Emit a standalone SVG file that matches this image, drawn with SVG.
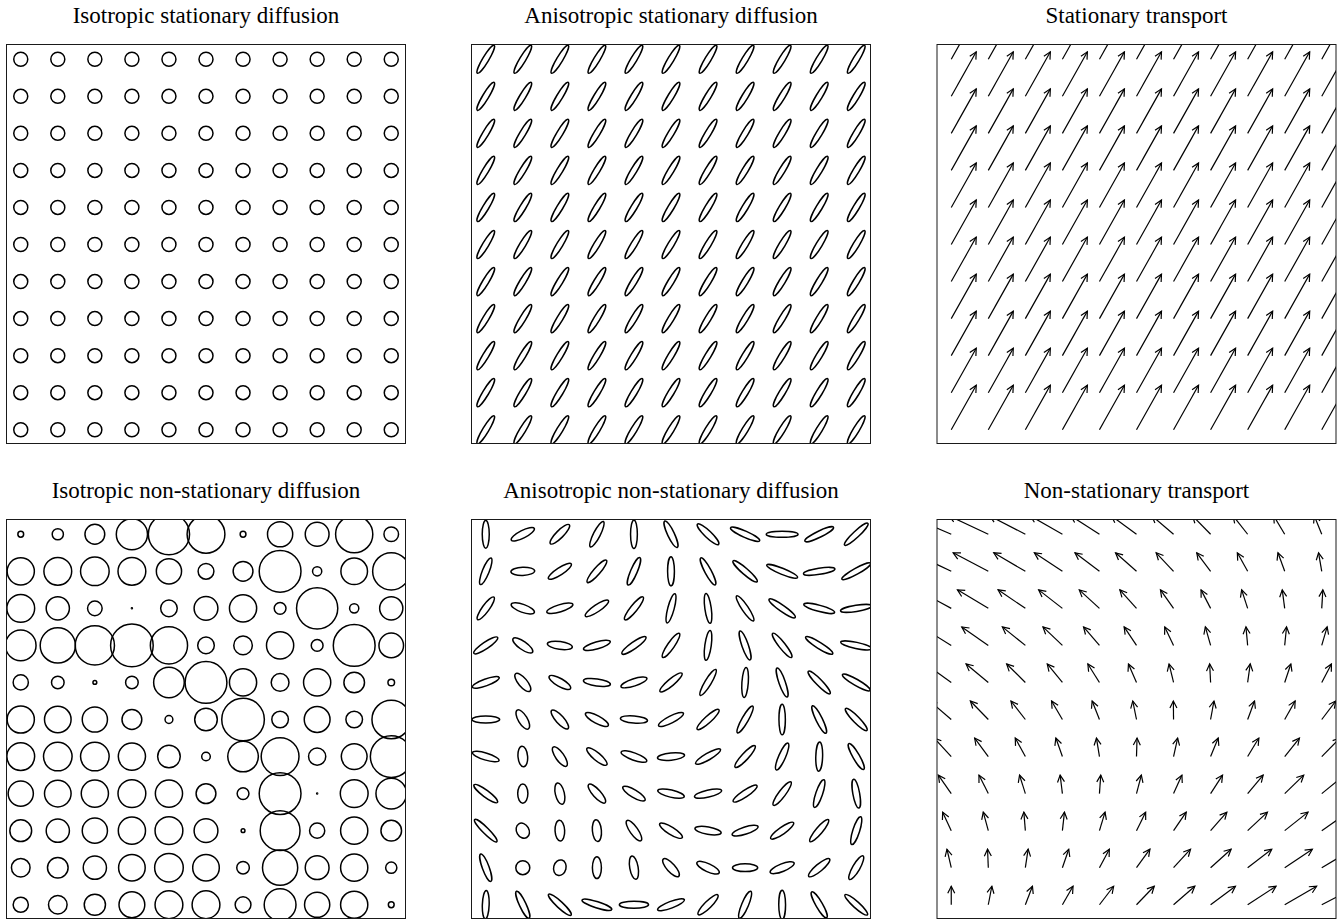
<svg xmlns="http://www.w3.org/2000/svg" xmlns:xlink="http://www.w3.org/1999/xlink" width="1343" height="921" viewBox="0 0 1343 921">
<style>
.f{fill:none;stroke:#1a1a1a;stroke-width:1}
.o{fill:none;stroke:#000;stroke-width:1.5}
.a{fill:none;stroke:#000;stroke-width:1.2;marker-end:url(#ah)}
text{font-family:"Liberation Serif","Times New Roman",serif;font-size:23px;fill:#000;text-anchor:middle}
</style>
<defs>
<marker id="ah" markerUnits="userSpaceOnUse" markerWidth="20" markerHeight="20" refX="0" refY="0" orient="auto" overflow="visible"><path d="M-7,-3.5L0,0L-7,3.5" fill="none" stroke="#000" stroke-width="1.2"/></marker>
<clipPath id="k1"><rect x="6.5" y="44.5" width="399" height="399"/></clipPath>
<clipPath id="k2"><rect x="471.5" y="44.5" width="399" height="399"/></clipPath>
<clipPath id="k3"><rect x="937" y="44.5" width="399" height="399"/></clipPath>
<clipPath id="k4"><rect x="6.5" y="519.5" width="399" height="399"/></clipPath>
<clipPath id="k5"><rect x="471.5" y="519.5" width="399" height="399"/></clipPath>
<clipPath id="k6"><rect x="937" y="519.5" width="399" height="399"/></clipPath>
<circle id="c" r="7"/>
<g id="cr"><use xlink:href="#c" x="0"/><use xlink:href="#c" x="37.05"/><use xlink:href="#c" x="74.1"/><use xlink:href="#c" x="111.15"/><use xlink:href="#c" x="148.2"/><use xlink:href="#c" x="185.25"/><use xlink:href="#c" x="222.3"/><use xlink:href="#c" x="259.35"/><use xlink:href="#c" x="296.4"/><use xlink:href="#c" x="333.45"/><use xlink:href="#c" x="370.5"/></g>
<ellipse id="e" rx="3" ry="16.3" transform="rotate(31)"/>
<g id="er"><use xlink:href="#e" x="0"/><use xlink:href="#e" x="37.05"/><use xlink:href="#e" x="74.1"/><use xlink:href="#e" x="111.15"/><use xlink:href="#e" x="148.2"/><use xlink:href="#e" x="185.25"/><use xlink:href="#e" x="222.3"/><use xlink:href="#e" x="259.35"/><use xlink:href="#e" x="296.4"/><use xlink:href="#e" x="333.45"/><use xlink:href="#e" x="370.5"/></g>
<path id="s" d="M0,0l25,-44.5"/>
<g id="sr"><use xlink:href="#s" x="0"/><use xlink:href="#s" x="37.05"/><use xlink:href="#s" x="74.1"/><use xlink:href="#s" x="111.15"/><use xlink:href="#s" x="148.2"/><use xlink:href="#s" x="185.25"/><use xlink:href="#s" x="222.3"/><use xlink:href="#s" x="259.35"/><use xlink:href="#s" x="296.4"/><use xlink:href="#s" x="333.45"/><use xlink:href="#s" x="370.5"/></g>
</defs>
<rect width="1343" height="921" fill="#fff"/>
<g id="titles">
<text x="206" y="23.3">Isotropic stationary diffusion</text>
<text x="671" y="23.3">Anisotropic stationary diffusion</text>
<text x="1136.5" y="23.3">Stationary transport</text>
<text x="206" y="498.3">Isotropic non-stationary diffusion</text>
<text x="671" y="498.3">Anisotropic non-stationary diffusion</text>
<text x="1136.5" y="498.3">Non-stationary transport</text>
</g>
<g id="panel-iso-stat" clip-path="url(#k1)"><g class="o" transform="translate(20.75 59.25)">
<use xlink:href="#cr" y="0"/><use xlink:href="#cr" y="37.05"/><use xlink:href="#cr" y="74.1"/><use xlink:href="#cr" y="111.15"/><use xlink:href="#cr" y="148.2"/><use xlink:href="#cr" y="185.25"/><use xlink:href="#cr" y="222.3"/><use xlink:href="#cr" y="259.35"/><use xlink:href="#cr" y="296.4"/><use xlink:href="#cr" y="333.45"/><use xlink:href="#cr" y="370.5"/>
</g></g>
<g id="panel-aniso-stat" clip-path="url(#k2)"><g class="o" transform="translate(485.75 59.25)">
<use xlink:href="#er" y="0"/><use xlink:href="#er" y="37.05"/><use xlink:href="#er" y="74.1"/><use xlink:href="#er" y="111.15"/><use xlink:href="#er" y="148.2"/><use xlink:href="#er" y="185.25"/><use xlink:href="#er" y="222.3"/><use xlink:href="#er" y="259.35"/><use xlink:href="#er" y="296.4"/><use xlink:href="#er" y="333.45"/><use xlink:href="#er" y="370.5"/>
</g></g>
<g id="panel-transport-stat" clip-path="url(#k3)"><g class="a" transform="translate(951.25 59.25)">
<use xlink:href="#sr" y="0"/><use xlink:href="#sr" y="37.05"/><use xlink:href="#sr" y="74.1"/><use xlink:href="#sr" y="111.15"/><use xlink:href="#sr" y="148.2"/><use xlink:href="#sr" y="185.25"/><use xlink:href="#sr" y="222.3"/><use xlink:href="#sr" y="259.35"/><use xlink:href="#sr" y="296.4"/><use xlink:href="#sr" y="333.45"/><use xlink:href="#sr" y="370.5"/>
</g></g>
<g id="panel-iso-nonstat" clip-path="url(#k4)"><g class="o" transform="translate(20.75 534.25)">
<circle cx="0" cy="0" r="2.9"/><circle cx="37.05" cy="0" r="5.6"/><circle cx="74.1" cy="0" r="9.9"/><circle cx="111.15" cy="0" r="15.6"/><circle cx="148.2" cy="0" r="20.6"/><circle cx="185.25" cy="0" r="18.9"/><circle cx="222.3" cy="0" r="2.9"/><circle cx="259.35" cy="0" r="12.6"/><circle cx="296.4" cy="0" r="11.9"/><circle cx="333.45" cy="0" r="18.6"/><circle cx="370.5" cy="0" r="7.3"/>
<circle cx="0" cy="37.05" r="13.6"/><circle cx="37.05" cy="37.05" r="13.9"/><circle cx="74.1" cy="37.05" r="14.3"/><circle cx="111.15" cy="37.05" r="13.9"/><circle cx="148.2" cy="37.05" r="12.6"/><circle cx="185.25" cy="37.05" r="7.9"/><circle cx="222.3" cy="37.05" r="9.9"/><circle cx="259.35" cy="37.05" r="20.9"/><circle cx="296.4" cy="37.05" r="4.6"/><circle cx="333.45" cy="37.05" r="13.3"/><circle cx="370.5" cy="37.05" r="18.6"/>
<circle cx="0" cy="74.1" r="13.9"/><circle cx="37.05" cy="74.1" r="11.6"/><circle cx="74.1" cy="74.1" r="7.3"/><circle cx="111.15" cy="74.1" r="0.5"/><circle cx="148.2" cy="74.1" r="8.3"/><circle cx="185.25" cy="74.1" r="11.9"/><circle cx="222.3" cy="74.1" r="13.6"/><circle cx="259.35" cy="74.1" r="5.9"/><circle cx="296.4" cy="74.1" r="20.6"/><circle cx="333.45" cy="74.1" r="4.6"/><circle cx="370.5" cy="74.1" r="11.6"/>
<circle cx="0" cy="111.15" r="15.3"/><circle cx="37.05" cy="111.15" r="17.6"/><circle cx="74.1" cy="111.15" r="19.6"/><circle cx="111.15" cy="111.15" r="21.3"/><circle cx="148.2" cy="111.15" r="18.6"/><circle cx="185.25" cy="111.15" r="8.3"/><circle cx="222.3" cy="111.15" r="9.3"/><circle cx="259.35" cy="111.15" r="13.6"/><circle cx="296.4" cy="111.15" r="5.9"/><circle cx="333.45" cy="111.15" r="20.9"/><circle cx="370.5" cy="111.15" r="12.3"/>
<circle cx="0" cy="148.2" r="7.6"/><circle cx="37.05" cy="148.2" r="6.3"/><circle cx="74.1" cy="148.2" r="1.9"/><circle cx="111.15" cy="148.2" r="6.3"/><circle cx="148.2" cy="148.2" r="15.3"/><circle cx="185.25" cy="148.2" r="20.9"/><circle cx="222.3" cy="148.2" r="13.6"/><circle cx="259.35" cy="148.2" r="8.9"/><circle cx="296.4" cy="148.2" r="13.6"/><circle cx="333.45" cy="148.2" r="10.3"/><circle cx="370.5" cy="148.2" r="3.3"/>
<circle cx="0" cy="185.25" r="13.6"/><circle cx="37.05" cy="185.25" r="13.3"/><circle cx="74.1" cy="185.25" r="12.6"/><circle cx="111.15" cy="185.25" r="9.9"/><circle cx="148.2" cy="185.25" r="3.9"/><circle cx="185.25" cy="185.25" r="11.3"/><circle cx="222.3" cy="185.25" r="21.3"/><circle cx="259.35" cy="185.25" r="8.3"/><circle cx="296.4" cy="185.25" r="12.9"/><circle cx="333.45" cy="185.25" r="8.3"/><circle cx="370.5" cy="185.25" r="19.3"/>
<circle cx="0" cy="222.3" r="13.9"/><circle cx="37.05" cy="222.3" r="14.3"/><circle cx="74.1" cy="222.3" r="14.3"/><circle cx="111.15" cy="222.3" r="13.6"/><circle cx="148.2" cy="222.3" r="11.3"/><circle cx="185.25" cy="222.3" r="4.3"/><circle cx="222.3" cy="222.3" r="15.3"/><circle cx="259.35" cy="222.3" r="18.9"/><circle cx="296.4" cy="222.3" r="8.6"/><circle cx="333.45" cy="222.3" r="12.9"/><circle cx="370.5" cy="222.3" r="20.9"/>
<circle cx="0" cy="259.35" r="12.6"/><circle cx="37.05" cy="259.35" r="13.3"/><circle cx="74.1" cy="259.35" r="13.6"/><circle cx="111.15" cy="259.35" r="13.9"/><circle cx="148.2" cy="259.35" r="13.6"/><circle cx="185.25" cy="259.35" r="9.9"/><circle cx="222.3" cy="259.35" r="5.9"/><circle cx="259.35" cy="259.35" r="20.9"/><circle cx="296.4" cy="259.35" r="0.5"/><circle cx="333.45" cy="259.35" r="13.9"/><circle cx="370.5" cy="259.35" r="15.3"/>
<circle cx="0" cy="296.4" r="10.9"/><circle cx="37.05" cy="296.4" r="11.6"/><circle cx="74.1" cy="296.4" r="12.6"/><circle cx="111.15" cy="296.4" r="13.6"/><circle cx="148.2" cy="296.4" r="13.9"/><circle cx="185.25" cy="296.4" r="11.9"/><circle cx="222.3" cy="296.4" r="1.9"/><circle cx="259.35" cy="296.4" r="19.9"/><circle cx="296.4" cy="296.4" r="7.6"/><circle cx="333.45" cy="296.4" r="13.6"/><circle cx="370.5" cy="296.4" r="10.3"/>
<circle cx="0" cy="333.45" r="9.3"/><circle cx="37.05" cy="333.45" r="10.3"/><circle cx="74.1" cy="333.45" r="11.6"/><circle cx="111.15" cy="333.45" r="13.3"/><circle cx="148.2" cy="333.45" r="14.3"/><circle cx="185.25" cy="333.45" r="13.3"/><circle cx="222.3" cy="333.45" r="6.3"/><circle cx="259.35" cy="333.45" r="17.6"/><circle cx="296.4" cy="333.45" r="11.9"/><circle cx="333.45" cy="333.45" r="13.6"/><circle cx="370.5" cy="333.45" r="5.6"/>
<circle cx="0" cy="370.5" r="7.6"/><circle cx="37.05" cy="370.5" r="9.3"/><circle cx="74.1" cy="370.5" r="10.6"/><circle cx="111.15" cy="370.5" r="12.9"/><circle cx="148.2" cy="370.5" r="13.9"/><circle cx="185.25" cy="370.5" r="13.9"/><circle cx="222.3" cy="370.5" r="7.9"/><circle cx="259.35" cy="370.5" r="15.9"/><circle cx="296.4" cy="370.5" r="12.6"/><circle cx="333.45" cy="370.5" r="13.6"/><circle cx="370.5" cy="370.5" r="2.9"/>
</g></g>
<g id="panel-aniso-nonstat" clip-path="url(#k5)"><g class="o" transform="translate(485.75 534.25)">
<ellipse rx="3.5" ry="13.9" transform="translate(0 0)rotate(0)"/><ellipse rx="3.8" ry="12.9" transform="translate(37.05 0)rotate(63)"/><ellipse rx="3.7" ry="13.4" transform="translate(74.1 0)rotate(45)"/><ellipse rx="3.4" ry="14.3" transform="translate(111.15 0)rotate(27)"/><ellipse rx="3.4" ry="14.3" transform="translate(148.2 0)rotate(0)"/><ellipse rx="3.4" ry="14.6" transform="translate(185.25 0)rotate(-25)"/><ellipse rx="3.4" ry="14.6" transform="translate(222.3 0)rotate(-46)"/><ellipse rx="3.1" ry="15.9" transform="translate(259.35 0)rotate(-66)"/><ellipse rx="3.1" ry="15.9" transform="translate(296.4 0)rotate(90)"/><ellipse rx="3.1" ry="15.9" transform="translate(333.45 0)rotate(64)"/><ellipse rx="3.1" ry="15.9" transform="translate(370.5 0)rotate(47)"/>
<ellipse rx="3.4" ry="14.3" transform="translate(0 37.05)rotate(22)"/><ellipse rx="4.1" ry="11.9" transform="translate(37.05 37.05)rotate(88)"/><ellipse rx="3.6" ry="13.6" transform="translate(74.1 37.05)rotate(57)"/><ellipse rx="3.4" ry="14.6" transform="translate(111.15 37.05)rotate(41)"/><ellipse rx="3.3" ry="14.9" transform="translate(148.2 37.05)rotate(23)"/><ellipse rx="3.4" ry="14.6" transform="translate(185.25 37.05)rotate(0)"/><ellipse rx="3.2" ry="15.3" transform="translate(222.3 37.05)rotate(-28)"/><ellipse rx="3.1" ry="15.9" transform="translate(259.35 37.05)rotate(-49)"/><ellipse rx="3.0" ry="16.6" transform="translate(296.4 37.05)rotate(-68)"/><ellipse rx="3.1" ry="15.9" transform="translate(333.45 37.05)rotate(81)"/><ellipse rx="3.0" ry="16.4" transform="translate(370.5 37.05)rotate(61)"/>
<ellipse rx="3.5" ry="13.9" transform="translate(0 74.1)rotate(36)"/><ellipse rx="4.0" ry="12.3" transform="translate(37.05 74.1)rotate(-70)"/><ellipse rx="3.6" ry="13.6" transform="translate(74.1 74.1)rotate(73)"/><ellipse rx="3.5" ry="13.9" transform="translate(111.15 74.1)rotate(56)"/><ellipse rx="3.4" ry="14.6" transform="translate(148.2 74.1)rotate(39)"/><ellipse rx="3.2" ry="15.1" transform="translate(185.25 74.1)rotate(15)"/><ellipse rx="3.2" ry="15.1" transform="translate(222.3 74.1)rotate(-8)"/><ellipse rx="3.2" ry="15.1" transform="translate(259.35 74.1)rotate(-34)"/><ellipse rx="3.1" ry="15.9" transform="translate(296.4 74.1)rotate(-55)"/><ellipse rx="3.1" ry="15.9" transform="translate(333.45 74.1)rotate(-75)"/><ellipse rx="3.1" ry="15.9" transform="translate(370.5 74.1)rotate(81)"/>
<ellipse rx="3.4" ry="14.3" transform="translate(0 111.15)rotate(56)"/><ellipse rx="4.1" ry="11.9" transform="translate(37.05 111.15)rotate(-55)"/><ellipse rx="3.9" ry="12.6" transform="translate(74.1 111.15)rotate(-82)"/><ellipse rx="3.5" ry="13.9" transform="translate(111.15 111.15)rotate(74)"/><ellipse rx="3.4" ry="14.6" transform="translate(148.2 111.15)rotate(55)"/><ellipse rx="3.4" ry="14.6" transform="translate(185.25 111.15)rotate(35)"/><ellipse rx="3.2" ry="15.1" transform="translate(222.3 111.15)rotate(8)"/><ellipse rx="3.2" ry="15.3" transform="translate(259.35 111.15)rotate(-19)"/><ellipse rx="3.2" ry="15.3" transform="translate(296.4 111.15)rotate(-38)"/><ellipse rx="3.1" ry="15.9" transform="translate(333.45 111.15)rotate(-58)"/><ellipse rx="3.1" ry="15.9" transform="translate(370.5 111.15)rotate(-78)"/>
<ellipse rx="3.4" ry="14.3" transform="translate(0 148.2)rotate(70)"/><ellipse rx="4.4" ry="11.3" transform="translate(37.05 148.2)rotate(-40)"/><ellipse rx="4.0" ry="12.3" transform="translate(74.1 148.2)rotate(-60)"/><ellipse rx="3.6" ry="13.6" transform="translate(111.15 148.2)rotate(-82)"/><ellipse rx="3.6" ry="13.6" transform="translate(148.2 148.2)rotate(72)"/><ellipse rx="3.4" ry="14.3" transform="translate(185.25 148.2)rotate(50)"/><ellipse rx="3.2" ry="15.1" transform="translate(222.3 148.2)rotate(31)"/><ellipse rx="3.2" ry="15.1" transform="translate(259.35 148.2)rotate(4)"/><ellipse rx="3.2" ry="15.3" transform="translate(296.4 148.2)rotate(-19)"/><ellipse rx="3.1" ry="15.6" transform="translate(333.45 148.2)rotate(-44)"/><ellipse rx="3.1" ry="15.9" transform="translate(370.5 148.2)rotate(-60)"/>
<ellipse rx="3.5" ry="13.9" transform="translate(0 185.25)rotate(90)"/><ellipse rx="4.5" ry="10.9" transform="translate(37.05 185.25)rotate(-31)"/><ellipse rx="4.0" ry="12.3" transform="translate(74.1 185.25)rotate(-42)"/><ellipse rx="3.8" ry="12.9" transform="translate(111.15 185.25)rotate(-62)"/><ellipse rx="3.6" ry="13.6" transform="translate(148.2 185.25)rotate(-85)"/><ellipse rx="3.5" ry="13.9" transform="translate(185.25 185.25)rotate(63)"/><ellipse rx="3.4" ry="14.6" transform="translate(222.3 185.25)rotate(48)"/><ellipse rx="3.2" ry="15.3" transform="translate(259.35 185.25)rotate(30)"/><ellipse rx="3.2" ry="15.3" transform="translate(296.4 185.25)rotate(0)"/><ellipse rx="3.2" ry="15.3" transform="translate(333.45 185.25)rotate(-26)"/><ellipse rx="3.2" ry="15.3" transform="translate(370.5 185.25)rotate(-44)"/>
<ellipse rx="3.5" ry="13.9" transform="translate(0 222.3)rotate(-73)"/><ellipse rx="4.8" ry="10.3" transform="translate(37.05 222.3)rotate(-5)"/><ellipse rx="4.2" ry="11.6" transform="translate(74.1 222.3)rotate(-35)"/><ellipse rx="3.8" ry="12.9" transform="translate(111.15 222.3)rotate(-50)"/><ellipse rx="3.6" ry="13.6" transform="translate(148.2 222.3)rotate(-70)"/><ellipse rx="3.6" ry="13.6" transform="translate(185.25 222.3)rotate(84)"/><ellipse rx="3.4" ry="14.3" transform="translate(222.3 222.3)rotate(60)"/><ellipse rx="3.4" ry="14.6" transform="translate(259.35 222.3)rotate(43)"/><ellipse rx="3.4" ry="14.6" transform="translate(296.4 222.3)rotate(24)"/><ellipse rx="3.4" ry="14.6" transform="translate(333.45 222.3)rotate(2)"/><ellipse rx="3.3" ry="14.9" transform="translate(370.5 222.3)rotate(-30)"/>
<ellipse rx="3.4" ry="14.6" transform="translate(0 259.35)rotate(-53)"/><ellipse rx="5.1" ry="9.6" transform="translate(37.05 259.35)rotate(0)"/><ellipse rx="4.5" ry="10.9" transform="translate(74.1 259.35)rotate(-13)"/><ellipse rx="4.0" ry="12.3" transform="translate(111.15 259.35)rotate(-42)"/><ellipse rx="3.8" ry="12.9" transform="translate(148.2 259.35)rotate(-59)"/><ellipse rx="3.6" ry="13.6" transform="translate(185.25 259.35)rotate(-77)"/><ellipse rx="3.5" ry="13.9" transform="translate(222.3 259.35)rotate(77)"/><ellipse rx="3.4" ry="14.3" transform="translate(259.35 259.35)rotate(56)"/><ellipse rx="3.4" ry="14.6" transform="translate(296.4 259.35)rotate(37)"/><ellipse rx="3.4" ry="14.6" transform="translate(333.45 259.35)rotate(19)"/><ellipse rx="3.4" ry="14.6" transform="translate(370.5 259.35)rotate(-10)"/>
<ellipse rx="3.1" ry="15.6" transform="translate(0 296.4)rotate(-45)"/><ellipse rx="6.2" ry="7.9" transform="translate(37.05 296.4)rotate(-30)"/><ellipse rx="4.8" ry="10.3" transform="translate(74.1 296.4)rotate(-3)"/><ellipse rx="4.5" ry="10.9" transform="translate(111.15 296.4)rotate(-5)"/><ellipse rx="4.0" ry="12.3" transform="translate(148.2 296.4)rotate(-35)"/><ellipse rx="3.7" ry="13.3" transform="translate(185.25 296.4)rotate(-58)"/><ellipse rx="3.7" ry="13.3" transform="translate(222.3 296.4)rotate(-80)"/><ellipse rx="3.6" ry="13.6" transform="translate(259.35 296.4)rotate(72)"/><ellipse rx="3.5" ry="13.9" transform="translate(296.4 296.4)rotate(55)"/><ellipse rx="3.4" ry="14.3" transform="translate(333.45 296.4)rotate(40)"/><ellipse rx="3.4" ry="14.6" transform="translate(370.5 296.4)rotate(18)"/>
<ellipse rx="3.4" ry="14.6" transform="translate(0 333.45)rotate(-20)"/><ellipse rx="7" ry="7" transform="translate(37.05 333.45)rotate(0)"/><ellipse rx="6.2" ry="7.9" transform="translate(74.1 333.45)rotate(15)"/><ellipse rx="4.5" ry="10.9" transform="translate(111.15 333.45)rotate(0)"/><ellipse rx="4.2" ry="11.8" transform="translate(148.2 333.45)rotate(-10)"/><ellipse rx="4.2" ry="11.6" transform="translate(185.25 333.45)rotate(-42)"/><ellipse rx="4.0" ry="12.3" transform="translate(222.3 333.45)rotate(-65)"/><ellipse rx="3.9" ry="12.6" transform="translate(259.35 333.45)rotate(90)"/><ellipse rx="3.8" ry="12.9" transform="translate(296.4 333.45)rotate(68)"/><ellipse rx="3.6" ry="13.6" transform="translate(333.45 333.45)rotate(50)"/><ellipse rx="3.6" ry="13.6" transform="translate(370.5 333.45)rotate(30)"/>
<ellipse rx="3.4" ry="14.3" transform="translate(0 370.5)rotate(2)"/><ellipse rx="3.3" ry="14.9" transform="translate(37.05 370.5)rotate(-25)"/><ellipse rx="3.2" ry="15.3" transform="translate(74.1 370.5)rotate(-47)"/><ellipse rx="3.1" ry="15.6" transform="translate(111.15 370.5)rotate(-72)"/><ellipse rx="3.4" ry="14.6" transform="translate(148.2 370.5)rotate(90)"/><ellipse rx="3.4" ry="14.3" transform="translate(185.25 370.5)rotate(69)"/><ellipse rx="3.5" ry="13.9" transform="translate(222.3 370.5)rotate(45)"/><ellipse rx="3.4" ry="14.6" transform="translate(259.35 370.5)rotate(23)"/><ellipse rx="3.4" ry="14.6" transform="translate(296.4 370.5)rotate(0)"/><ellipse rx="3.3" ry="14.9" transform="translate(333.45 370.5)rotate(-30)"/><ellipse rx="3.2" ry="15.1" transform="translate(370.5 370.5)rotate(-48)"/>
</g></g>
<g id="panel-transport-nonstat" clip-path="url(#k6)"><g class="a" transform="translate(951.25 534.25)">
<path d="M0,0l-43,-18.5"/><path d="M37.05,0l-39.45,-18.5"/><path d="M74.1,0l-35.9,-18.5"/><path d="M111.15,0l-32.35,-18.5"/><path d="M148.2,0l-28.8,-18.5"/><path d="M185.25,0l-25.25,-18.5"/><path d="M222.3,0l-21.7,-18.5"/><path d="M259.35,0l-18.15,-18.5"/><path d="M296.4,0l-14.6,-18.5"/><path d="M333.45,0l-11.05,-18.5"/><path d="M370.5,0l-7.5,-18.5"/>
<path d="M0,37.05l-38.7,-18.5"/><path d="M37.05,37.05l-35.15,-18.5"/><path d="M74.1,37.05l-31.6,-18.5"/><path d="M111.15,37.05l-28.05,-18.5"/><path d="M148.2,37.05l-24.5,-18.5"/><path d="M185.25,37.05l-20.95,-18.5"/><path d="M222.3,37.05l-17.4,-18.5"/><path d="M259.35,37.05l-13.85,-18.5"/><path d="M296.4,37.05l-10.3,-18.5"/><path d="M333.45,37.05l-6.75,-18.5"/><path d="M370.5,37.05l-3.2,-18.5"/>
<path d="M0,74.1l-34.4,-18.5"/><path d="M37.05,74.1l-30.85,-18.5"/><path d="M74.1,74.1l-27.3,-18.5"/><path d="M111.15,74.1l-23.75,-18.5"/><path d="M148.2,74.1l-20.2,-18.5"/><path d="M185.25,74.1l-16.65,-18.5"/><path d="M222.3,74.1l-13.1,-18.5"/><path d="M259.35,74.1l-9.55,-18.5"/><path d="M296.4,74.1l-6,-18.5"/><path d="M333.45,74.1l-2.45,-18.5"/><path d="M370.5,74.1l1.1,-18.5"/>
<path d="M0,111.15l-30.1,-18.5"/><path d="M37.05,111.15l-26.55,-18.5"/><path d="M74.1,111.15l-23,-18.5"/><path d="M111.15,111.15l-19.45,-18.5"/><path d="M148.2,111.15l-15.9,-18.5"/><path d="M185.25,111.15l-12.35,-18.5"/><path d="M222.3,111.15l-8.8,-18.5"/><path d="M259.35,111.15l-5.25,-18.5"/><path d="M296.4,111.15l-1.7,-18.5"/><path d="M333.45,111.15l1.85,-18.5"/><path d="M370.5,111.15l5.4,-18.5"/>
<path d="M0,148.2l-25.8,-18.5"/><path d="M37.05,148.2l-22.25,-18.5"/><path d="M74.1,148.2l-18.7,-18.5"/><path d="M111.15,148.2l-15.15,-18.5"/><path d="M148.2,148.2l-11.6,-18.5"/><path d="M185.25,148.2l-8.05,-18.5"/><path d="M222.3,148.2l-4.5,-18.5"/><path d="M259.35,148.2l-0.95,-18.5"/><path d="M296.4,148.2l2.6,-18.5"/><path d="M333.45,148.2l6.15,-18.5"/><path d="M370.5,148.2l9.7,-18.5"/>
<path d="M0,185.25l-21.5,-18.5"/><path d="M37.05,185.25l-17.95,-18.5"/><path d="M74.1,185.25l-14.4,-18.5"/><path d="M111.15,185.25l-10.85,-18.5"/><path d="M148.2,185.25l-7.3,-18.5"/><path d="M185.25,185.25l-3.75,-18.5"/><path d="M222.3,185.25l-0.2,-18.5"/><path d="M259.35,185.25l3.35,-18.5"/><path d="M296.4,185.25l6.9,-18.5"/><path d="M333.45,185.25l10.45,-18.5"/><path d="M370.5,185.25l14,-18.5"/>
<path d="M0,222.3l-17.2,-18.5"/><path d="M37.05,222.3l-13.65,-18.5"/><path d="M74.1,222.3l-10.1,-18.5"/><path d="M111.15,222.3l-6.55,-18.5"/><path d="M148.2,222.3l-3,-18.5"/><path d="M185.25,222.3l0.55,-18.5"/><path d="M222.3,222.3l4.1,-18.5"/><path d="M259.35,222.3l7.65,-18.5"/><path d="M296.4,222.3l11.2,-18.5"/><path d="M333.45,222.3l14.75,-18.5"/><path d="M370.5,222.3l18.3,-18.5"/>
<path d="M0,259.35l-12.9,-18.5"/><path d="M37.05,259.35l-9.35,-18.5"/><path d="M74.1,259.35l-5.8,-18.5"/><path d="M111.15,259.35l-2.25,-18.5"/><path d="M148.2,259.35l1.3,-18.5"/><path d="M185.25,259.35l4.85,-18.5"/><path d="M222.3,259.35l8.4,-18.5"/><path d="M259.35,259.35l11.95,-18.5"/><path d="M296.4,259.35l15.5,-18.5"/><path d="M333.45,259.35l19.05,-18.5"/><path d="M370.5,259.35l22.6,-18.5"/>
<path d="M0,296.4l-8.6,-18.5"/><path d="M37.05,296.4l-5.05,-18.5"/><path d="M74.1,296.4l-1.5,-18.5"/><path d="M111.15,296.4l2.05,-18.5"/><path d="M148.2,296.4l5.6,-18.5"/><path d="M185.25,296.4l9.15,-18.5"/><path d="M222.3,296.4l12.7,-18.5"/><path d="M259.35,296.4l16.25,-18.5"/><path d="M296.4,296.4l19.8,-18.5"/><path d="M333.45,296.4l23.35,-18.5"/><path d="M370.5,296.4l26.9,-18.5"/>
<path d="M0,333.45l-4.3,-18.5"/><path d="M37.05,333.45l-0.75,-18.5"/><path d="M74.1,333.45l2.8,-18.5"/><path d="M111.15,333.45l6.35,-18.5"/><path d="M148.2,333.45l9.9,-18.5"/><path d="M185.25,333.45l13.45,-18.5"/><path d="M222.3,333.45l17,-18.5"/><path d="M259.35,333.45l20.55,-18.5"/><path d="M296.4,333.45l24.1,-18.5"/><path d="M333.45,333.45l27.65,-18.5"/><path d="M370.5,333.45l31.2,-18.5"/>
<path d="M0,370.5l0,-18.5"/><path d="M37.05,370.5l3.55,-18.5"/><path d="M74.1,370.5l7.1,-18.5"/><path d="M111.15,370.5l10.65,-18.5"/><path d="M148.2,370.5l14.2,-18.5"/><path d="M185.25,370.5l17.75,-18.5"/><path d="M222.3,370.5l21.3,-18.5"/><path d="M259.35,370.5l24.85,-18.5"/><path d="M296.4,370.5l28.4,-18.5"/><path d="M333.45,370.5l31.95,-18.5"/><path d="M370.5,370.5l35.5,-18.5"/>
</g></g>
<g id="frames">
<rect class="f" x="6.5" y="44.5" width="399" height="399"/>
<rect class="f" x="471.5" y="44.5" width="399" height="399"/>
<rect class="f" x="937" y="44.5" width="399" height="399"/>
<rect class="f" x="6.5" y="519.5" width="399" height="399"/>
<rect class="f" x="471.5" y="519.5" width="399" height="399"/>
<rect class="f" x="937" y="519.5" width="399" height="399"/>
</g>
</svg>
